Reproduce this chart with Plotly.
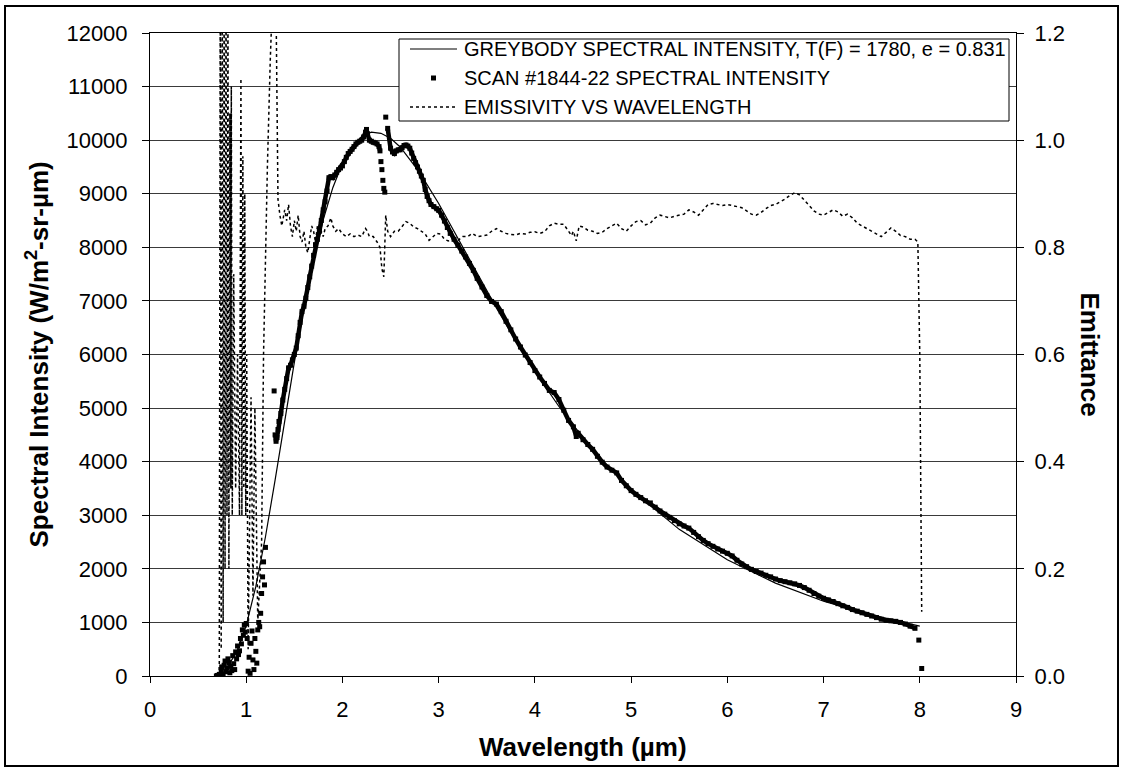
import numpy as np
import plotly.graph_objects as go

FONT = "Liberation Sans, Arial, sans-serif"

# Greybody curve, T(F) = 1780, e = 0.831 (wavelength in um, intensity in W/m2-sr-um)
grey_wl = [0.7, 0.8, 0.9, 1.0, 1.1, 1.2, 1.3, 1.4, 1.5, 1.6, 1.7, 1.8, 1.9, 2.0,
           2.1, 2.2, 2.3, 2.4, 2.5, 2.6, 2.8, 3.0, 3.2, 3.4, 3.6, 3.8, 4.0, 4.25,
           4.5, 4.75, 5.0, 5.5, 6.0, 6.5, 7.0, 7.5, 8.0]
grey_int = [39, 160, 441, 941, 1672, 2599, 3654, 4766, 5852, 6864, 7757, 8511, 9113, 9568,
            9884, 10070, 10151, 10128, 10034, 9873, 9403, 8817, 8172, 7513, 6870, 6256, 5683, 5030,
            4447, 3932, 3480, 2737, 2168, 1733, 1396, 1136, 931]

# Scan #1844-22 measured spectral intensity
scan_wl = [0.69, 0.70, 0.71, 0.72, 0.73, 0.74, 0.745, 0.75, 0.76, 0.77, 0.78, 0.79, 0.80, 0.81,
           0.82, 0.83, 0.84, 0.85, 0.86, 0.87, 0.88, 0.89, 0.90, 0.91, 0.92, 0.93, 0.94, 0.95,
           0.96, 0.97, 0.98, 0.99, 1.00, 1.01, 1.02, 1.03, 1.04, 1.05, 1.06, 1.07, 1.08, 1.09,
           1.10, 1.11, 1.12, 1.13, 1.14, 1.15, 1.16, 1.17, 1.18, 1.19, 1.20,
           1.29, 1.30, 1.31, 1.32, 1.33, 1.34, 1.36, 1.38, 1.40, 1.42, 1.44, 1.46, 1.48, 1.50,
           1.52, 1.54, 1.56, 1.58, 1.60, 1.62, 1.64, 1.66, 1.68, 1.70, 1.72, 1.74, 1.76, 1.78,
           1.80, 1.82, 1.84, 1.86, 1.88, 1.90, 1.92, 1.94, 1.96, 1.98, 2.00, 2.02, 2.04, 2.06,
           2.08, 2.10, 2.12, 2.14, 2.16, 2.18, 2.20, 2.22, 2.24, 2.25, 2.26, 2.28, 2.30, 2.32,
           2.34, 2.36, 2.38, 2.39, 2.40, 2.41, 2.42, 2.43, 2.44, 2.45, 2.47, 2.50, 2.52, 2.54,
           2.56, 2.58, 2.60, 2.62, 2.64, 2.66, 2.68, 2.70, 2.72, 2.74, 2.76, 2.78, 2.80, 2.82,
           2.84, 2.86, 2.88, 2.90, 2.92, 2.95, 2.98, 3.00, 3.03, 3.06, 3.09, 3.12, 3.16, 3.20,
           3.24, 3.28, 3.32, 3.36, 3.40, 3.45, 3.50, 3.55, 3.60, 3.65, 3.70, 3.75, 3.80, 3.85,
           3.90, 3.95, 4.00, 4.05, 4.10, 4.15, 4.20, 4.25, 4.30, 4.35, 4.40, 4.43, 4.45, 4.50,
           4.55, 4.60, 4.65, 4.70, 4.75, 4.80, 4.85, 4.90, 4.95, 5.00, 5.05, 5.10, 5.15, 5.20,
           5.25, 5.30, 5.35, 5.40, 5.45, 5.50, 5.55, 5.60, 5.65, 5.70, 5.75, 5.80, 5.85, 5.90,
           5.95, 6.00, 6.05, 6.10, 6.15, 6.20, 6.25, 6.30, 6.35, 6.40, 6.45, 6.50, 6.55, 6.60,
           6.65, 6.70, 6.75, 6.80, 6.85, 6.90, 6.95, 7.00, 7.05, 7.10, 7.15, 7.20, 7.25, 7.30,
           7.35, 7.40, 7.45, 7.50, 7.55, 7.60, 7.65, 7.70, 7.75, 7.80, 7.85, 7.90, 7.95, 7.99,
           8.02]
scan_int = [0, 10, 0, 30, 0, 120, 170, 40, 0, 200, 280, 80, 150, 320,
            250, 60, 180, 100, 380, 230, 120, 450, 320, 560, 400, 470, 700, 600,
            860, 760, 950, 820, 980, 700, 90, 350, 50, 610, 840, 300, 120, 700,
            460, 240, 860, 1000, 920, 1170, 1540, 1850, 2130, 1700, 2400,
            5320, 4500, 4380, 4450, 4600, 4750, 4900, 5150, 5350, 5550, 5750, 5800, 5900, 6000,
            6120, 6350, 6600, 6800, 6900, 7050, 7250, 7450, 7650, 7850, 8050, 8150, 8300, 8500,
            8700, 8850, 9050, 9300, 9320, 9300, 9350, 9400, 9450, 9480, 9520, 9600, 9680, 9750,
            9790, 9830, 9880, 9930, 9960, 9980, 10000, 10060, 10150, 10200, 10120, 10000, 9980, 9960,
            9950, 9930, 9880, 9800, 9600, 9450, 9250, 9100, 9030, 10430, 10220, 9850, 9780, 9750,
            9800, 9820, 9820, 9860, 9900, 9910, 9890, 9850, 9760, 9660, 9580, 9500, 9420, 9330,
            9250, 9080, 8950, 8870, 8800, 8760, 8720, 8690, 8600, 8490, 8370, 8260, 8150, 8040,
            7930, 7820, 7700, 7570, 7420, 7260, 7100, 6990, 6940, 6800, 6620, 6460, 6290, 6140,
            5990, 5850, 5700, 5580, 5460, 5330, 5290, 5160, 4960, 4770, 4650, 4470, 4530, 4410,
            4320, 4230, 4100, 3990, 3900, 3840, 3790, 3650, 3550, 3460, 3390, 3330, 3270, 3230,
            3150, 3080, 3020, 2960, 2900, 2840, 2800, 2760, 2680, 2600, 2530, 2470, 2420, 2370,
            2330, 2290, 2240, 2160, 2090, 2040, 1990, 1950, 1920, 1880, 1850, 1810, 1780, 1760,
            1740, 1720, 1690, 1650, 1600, 1540, 1490, 1450, 1420, 1390, 1350, 1310, 1280, 1240,
            1210, 1180, 1150, 1120, 1090, 1060, 1040, 1030, 1020, 1000, 970, 930, 890, 670,
            140]

# Emissivity (emittance) versus wavelength
emis_wl = [0.72, 0.73, 0.74, 0.75, 0.76, 0.77, 0.78, 0.79, 0.80, 0.81, 0.82, 0.83, 0.84, 0.845,
           0.855, 0.87, 0.89, 0.91, 0.93, 0.945, 0.955, 0.965, 0.975, 0.985, 0.995, 1.005,
           1.02, 1.05, 1.07, 1.09, 1.12, 1.16, 1.18, 1.20,
           1.22, 1.25, 1.28, 1.31, 1.33, 1.35, 1.37, 1.40, 1.42, 1.44, 1.46, 1.48, 1.50, 1.52,
           1.54, 1.56, 1.58, 1.60, 1.62, 1.64, 1.66, 1.68, 1.70, 1.72, 1.74, 1.76, 1.78, 1.80,
           1.82, 1.85, 1.88, 1.90, 1.93, 1.96, 2.00, 2.04, 2.08, 2.12, 2.16, 2.20, 2.24, 2.26,
           2.28, 2.32, 2.36, 2.39, 2.41, 2.43, 2.45, 2.47, 2.50, 2.54, 2.58, 2.62, 2.66, 2.70,
           2.74, 2.78, 2.82, 2.86, 2.90, 2.94, 2.98, 3.02, 3.06, 3.10, 3.15, 3.20, 3.25, 3.30,
           3.35, 3.40, 3.45, 3.50, 3.55, 3.60, 3.65, 3.70, 3.75, 3.80, 3.85, 3.90, 3.95, 4.00,
           4.05, 4.10, 4.15, 4.20, 4.25, 4.30, 4.35, 4.38, 4.40, 4.43, 4.46, 4.50, 4.55, 4.60,
           4.65, 4.70, 4.75, 4.80, 4.85, 4.90, 4.95, 5.00, 5.05, 5.10, 5.15, 5.20, 5.25, 5.30,
           5.35, 5.40, 5.45, 5.50, 5.55, 5.60, 5.65, 5.70, 5.75, 5.80, 5.85, 5.90, 5.95, 6.00,
           6.05, 6.10, 6.15, 6.20, 6.25, 6.30, 6.35, 6.40, 6.45, 6.50, 6.55, 6.60, 6.65, 6.70,
           6.75, 6.80, 6.85, 6.90, 6.95, 7.00, 7.05, 7.10, 7.15, 7.20, 7.25, 7.30, 7.35, 7.40,
           7.45, 7.50, 7.55, 7.60, 7.65, 7.70, 7.75, 7.80, 7.85, 7.90, 7.95, 7.98, 8.00, 8.02]
emis_val = [0.0, 1.3, 0.05, 1.3, 0.1, 1.3, 0.2, 1.3, 0.3, 1.25, 0.2, 1.05, 0.35, 1.10,
            0.3, 0.75, 0.35, 0.6, 0.3, 1.115, 0.3, 0.97, 0.35, 0.9, 0.3, 0.6,
            0.05, 0.52, 0.15, 0.50, 0.1, 0.25, 0.6, 0.8,
            0.95, 1.15, 1.3, 1.25, 0.89, 0.86, 0.84, 0.87, 0.85, 0.88, 0.84, 0.82, 0.85, 0.83,
            0.86, 0.82, 0.81, 0.83, 0.80, 0.79, 0.82, 0.84, 0.83, 0.81, 0.84, 0.82, 0.83, 0.82,
            0.835, 0.84, 0.855, 0.84, 0.83, 0.835, 0.825, 0.82, 0.825, 0.82, 0.823, 0.82, 0.835, 0.83,
            0.82, 0.82, 0.81, 0.80, 0.76, 0.745, 0.86, 0.83, 0.82, 0.83, 0.83, 0.84, 0.848, 0.845,
            0.838, 0.835, 0.83, 0.825, 0.813, 0.82, 0.826, 0.825, 0.815, 0.812, 0.815, 0.813, 0.82, 0.82,
            0.826, 0.82, 0.822, 0.823, 0.83, 0.835, 0.83, 0.826, 0.824, 0.823, 0.826, 0.825, 0.828, 0.829,
            0.826, 0.829, 0.84, 0.845, 0.843, 0.843, 0.83, 0.822, 0.83, 0.812, 0.84, 0.838, 0.832, 0.83,
            0.826, 0.828, 0.835, 0.84, 0.845, 0.835, 0.83, 0.84, 0.848, 0.85, 0.842, 0.845, 0.855, 0.86,
            0.858, 0.855, 0.858, 0.86, 0.862, 0.87, 0.866, 0.86, 0.87, 0.88, 0.882, 0.88, 0.878, 0.88,
            0.878, 0.877, 0.874, 0.868, 0.862, 0.86, 0.865, 0.872, 0.878, 0.88, 0.885, 0.89, 0.897, 0.902,
            0.898, 0.888, 0.878, 0.868, 0.862, 0.86, 0.865, 0.87, 0.866, 0.858, 0.862, 0.855, 0.845, 0.84,
            0.835, 0.83, 0.825, 0.82, 0.828, 0.836, 0.83, 0.822, 0.82, 0.815, 0.815, 0.81, 0.6, 0.12]

x_ticks = list(range(0, 10))
y_ticks = list(range(0, 13000, 1000))
y2_ticks = [0.0, 0.2, 0.4, 0.6, 0.8, 1.0, 1.2]

legend_labels = [
    "GREYBODY SPECTRAL INTENSITY, T(F) = 1780, e = 0.831",
    "SCAN #1844-22 SPECTRAL INTENSITY",
    "EMISSIVITY VS WAVELENGTH",
]

# The dense scan reads as a continuous thick band between the noisy start,
# the dip near 2.4 um and the tail end; build that band from the same samples.
sw = np.array(scan_wl)
si = np.array(scan_int, dtype=float)
band_ok = (sw >= 1.30) & (sw <= 7.95) & ~((sw > 2.39) & (sw < 2.47))
band_y = np.where(band_ok, si, np.nan)

GREY_LINE = dict(color="black", width=1.2)
EMIS_LINE = dict(color="black", width=1.5, dash="dot")

fig = go.Figure()
fig.add_trace(go.Scatter(x=grey_wl, y=grey_int, mode="lines", name=legend_labels[0],
                         line=GREY_LINE, showlegend=False))
fig.add_trace(go.Scatter(x=sw, y=band_y, mode="lines", showlegend=False, hoverinfo="skip",
                         line=dict(color="black", width=4.5), connectgaps=False))
fig.add_trace(go.Scatter(x=scan_wl, y=scan_int, mode="markers", name=legend_labels[1],
                         marker=dict(symbol="square", size=5, color="black"), showlegend=False))
fig.add_trace(go.Scatter(x=emis_wl, y=emis_val, mode="lines", yaxis="y2", name=legend_labels[2],
                         line=EMIS_LINE, showlegend=False))

L, R, T, B = 150, 108, 33, 97
W, H = 1124, 773
pw, ph = W - L - R, H - T - B


def px_x(p):
    return (p - L) / pw


def px_y(p):
    return (H - B - p) / ph


tick_font = dict(family=FONT, size=22, color="black")
title_font = dict(family=FONT, size=26, color="black")

# Legend panel: box, key samples and labels
LEG_L, LEG_R, LEG_T, LEG_B = 399, 1009, 39, 121
row_y = [49, 78, 107]
key_x0, key_x1, text_x = 410, 457, 462

shapes = [
    dict(type="rect", xref="paper", yref="paper",
         x0=px_x(5), x1=px_x(1118), y0=px_y(766), y1=px_y(6),
         line=dict(color="black", width=2), fillcolor="rgba(0,0,0,0)", layer="above"),
    dict(type="rect", xref="paper", yref="paper",
         x0=px_x(LEG_L), x1=px_x(LEG_R), y0=px_y(LEG_B), y1=px_y(LEG_T),
         line=dict(color="black", width=1), fillcolor="white", layer="above"),
    dict(type="line", xref="paper", yref="paper",
         x0=px_x(key_x0), x1=px_x(key_x1), y0=px_y(row_y[0]), y1=px_y(row_y[0]),
         line=GREY_LINE, layer="above"),
    dict(type="rect", xref="paper", yref="paper",
         x0=px_x((key_x0 + key_x1) / 2 - 2.5), x1=px_x((key_x0 + key_x1) / 2 + 2.5),
         y0=px_y(row_y[1] + 2.5), y1=px_y(row_y[1] - 2.5),
         line=dict(width=0), fillcolor="black", layer="above"),
    dict(type="line", xref="paper", yref="paper",
         x0=px_x(key_x0), x1=px_x(key_x1), y0=px_y(row_y[2]), y1=px_y(row_y[2]),
         line=EMIS_LINE, layer="above"),
]

annotations = [
    dict(text=lab, xref="paper", yref="paper", x=px_x(text_x), y=px_y(yy),
         xanchor="left", yanchor="middle", showarrow=False,
         font=dict(family=FONT, size=20, color="black"))
    for lab, yy in zip(legend_labels, row_y)
] + [
    dict(text="<b>Wavelength (µm)</b>", xref="paper", yref="paper",
         x=0.5, y=px_y(747), xanchor="center", yanchor="middle",
         showarrow=False, font=title_font),
    dict(text="<b>Spectral Intensity (W/m<sup>2</sup>-sr-µm)</b>", xref="paper", yref="paper",
         x=px_x(38), y=0.5, xanchor="center", yanchor="middle", textangle=-90,
         showarrow=False, font=title_font),
    dict(text="<b>Emittance</b>", xref="paper", yref="paper",
         x=px_x(1090), y=0.5, xanchor="center", yanchor="middle", textangle=90,
         showarrow=False, font=title_font),
]

fig.update_layout(
    width=W, height=H,
    margin=dict(l=L, r=R, t=T, b=B, pad=0),
    paper_bgcolor="white", plot_bgcolor="white",
    font=dict(family=FONT, color="black"),
    showlegend=False,
    xaxis=dict(
        range=[0, 9], tickvals=x_ticks, ticks="outside", ticklen=6, tickcolor="black",
        showline=True, linecolor="black", linewidth=1, mirror=True,
        showgrid=False, zeroline=False, tickfont=tick_font, ticklabelstandoff=8,
    ),
    yaxis=dict(
        range=[0, 12000], tickvals=y_ticks, tickformat="d", ticks="outside", ticklen=7,
        tickcolor="black", showline=True, linecolor="black", linewidth=1,
        showgrid=True, gridcolor="#3a3a3a", gridwidth=1, zeroline=False,
        tickfont=tick_font, ticklabelstandoff=10,
    ),
    yaxis2=dict(
        range=[0, 1.2], tickvals=y2_ticks, tickformat=".1f", overlaying="y", side="right",
        ticks="outside", ticklen=7, tickcolor="black",
        showline=True, linecolor="black", linewidth=1,
        showgrid=False, zeroline=False, tickfont=tick_font, ticklabelstandoff=6,
    ),
    shapes=shapes,
    annotations=annotations,
)

fig.write_html("out.html")
